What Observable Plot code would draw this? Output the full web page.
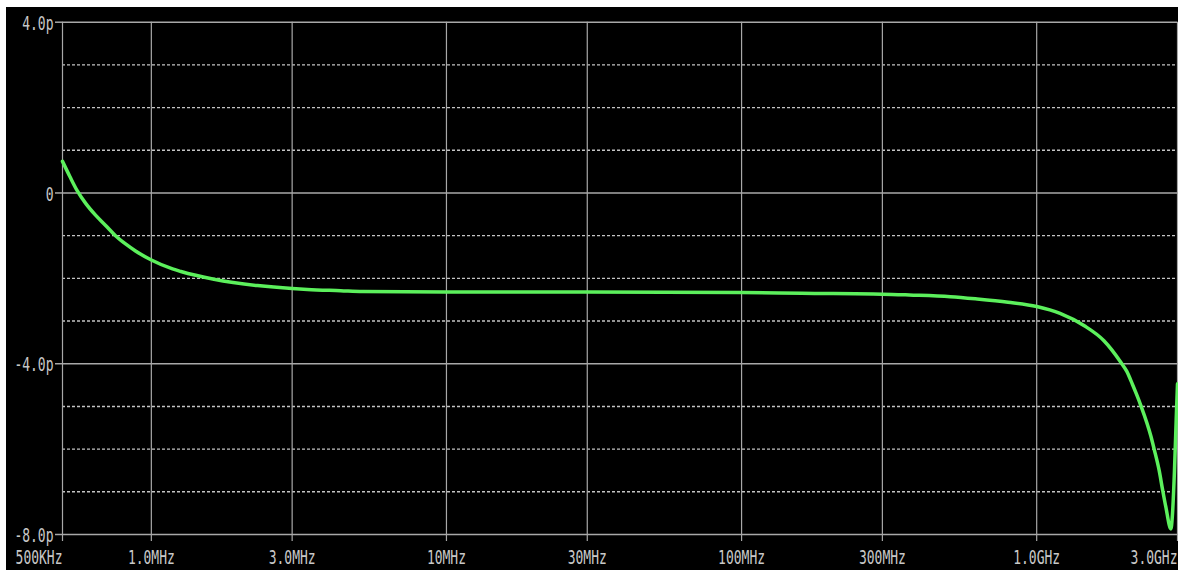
<!DOCTYPE html>
<html>
<head>
<meta charset="utf-8">
<script src="https://cdn.jsdelivr.net/npm/d3@7"></script>
<script src="https://cdn.jsdelivr.net/npm/@observablehq/plot@0.6"></script>
<style>
  html, body { margin: 0; padding: 0; background: #ffffff; }
  #wrap { padding: 7px 0 0 6px; width: 1172px; height: 563px; }
  #wrap svg { display: block; background: #000000; }
</style>
</head>
<body>
<div id="wrap"></div>
<script>
// ---- data (frequency in Hz, value in pF) ----
const freqHz = [5.0e5, 5.3e5, 5.6e5, 6.0e5, 6.47e5, 7.0e5, 7.56e5, 8.2e5, 8.84e5, 1.0e6, 1.18e6, 1.26e6, 1.63e6, 2.29e6, 3.0e6, 3.38e6, 4.38e6, 5.2e6,
  1e7, 3e7, 1e8, 1.6e8, 3.0e8, 3.7e8, 5.1e8, 6.2e8, 8.0e8, 1.0e9, 1.2e9, 1.45e9, 1.69e9, 1.93e9, 2.02e9, 2.11e9, 2.18e9, 2.254e9,
  2.438e9, 2.5e9, 2.6e9, 2.67e9, 2.74e9, 2.85e9, 2.88e9, 2.93e9, 2.97e9, 3.0e9];
const capPf = [0.74, 0.38, 0.06, -0.25, -0.52, -0.76, -1.0, -1.2, -1.36, -1.57, -1.78, -1.84, -2.02, -2.17, -2.24, -2.26, -2.29, -2.31,
  -2.32, -2.32, -2.33, -2.35, -2.37, -2.39, -2.43, -2.48, -2.56, -2.66, -2.82, -3.11, -3.46, -3.97, -4.18, -4.48, -4.72, -4.98,
  -5.70, -6.0, -6.5, -6.95, -7.36, -7.87, -7.6, -6.5, -5.3, -4.47];

const xTickValues = [5e5, 1e6, 3e6, 1e7, 3e7, 1e8, 3e8, 1e9, 3e9];
const xTickLabels = ["500KHz", "1.0MHz", "3.0MHz", "10MHz", "30MHz", "100MHz", "300MHz", "1.0GHz", "3.0GHz"];
const yTickValues = [4, 0, -4, -8];
const yTickLabels = ["4.0p", "0", "-4.0p", "-8.0p"];
const yMinorValues = [3, 2, 1, -1, -2, -3, -5, -6, -7];

const curve = freqHz.map((f, i) => ({f, v: capPf[i]}));
const xTicks = xTickValues.map((f, i) => ({f, label: xTickLabels[i]}));
const yTicks = yTickValues.map((v, i) => ({v, label: yTickLabels[i]}));

const textColor = "#c8c8c8";
const gridColor = "#a8a8a8";
const dotColor = "#c4c4c4";
const font = "DejaVu Sans Mono";

const chart = Plot.plot({
  width: 1172,
  height: 563,
  marginLeft: 56,
  marginTop: 14.7,
  marginRight: 1,
  marginBottom: 36,
  style: {background: "#000000", fontFamily: font},
  x: {type: "log", domain: [5e5, 3e9], axis: null},
  y: {domain: [-8, 4], axis: null},
  marks: [
    Plot.ruleY(yMinorValues, {stroke: dotColor, strokeWidth: 1.4, strokeDasharray: "3,2"}),
    Plot.ruleX(xTickValues, {stroke: gridColor, strokeWidth: 1.2}),
    Plot.ruleY(yTickValues, {stroke: gridColor, strokeWidth: 1.5}),
    Plot.axisY({ticks: yTickValues, tickSize: 7, tickFormat: () => "", stroke: gridColor, strokeWidth: 1.5, label: null}),
    Plot.axisX({ticks: xTickValues, tickSize: 7, tickFormat: () => "", stroke: gridColor, strokeWidth: 1.2, label: null}),
    Plot.line(curve, {x: "f", y: "v", stroke: "#5cf05c", strokeWidth: 3.5, curve: "monotone-x"}),
    // y tick labels
    Plot.text(yTicks, {y: "v", text: "label", frameAnchor: "left", textAnchor: "end", dx: -9, dy: 1,
      fill: textColor, fontSize: 13, fontFamily: font}),
    // x tick labels
    Plot.text(xTicks.slice(0, 1), {x: "f", text: "label", frameAnchor: "bottom", textAnchor: "end", dy: 27,
      fill: textColor, fontSize: 13, fontFamily: font}),
    Plot.text(xTicks.slice(1, -1), {x: "f", text: "label", frameAnchor: "bottom", textAnchor: "middle", dy: 27,
      fill: textColor, fontSize: 13, fontFamily: font}),
    Plot.text(xTicks.slice(-1), {x: "f", text: "label", frameAnchor: "bottom", textAnchor: "end", dy: 27,
      fill: textColor, fontSize: 13, fontFamily: font})
  ]
});

document.getElementById("wrap").appendChild(chart);

// stretch each label vertically about its own centre to mimic the tall, narrow plotter font
const svgNS = "http://www.w3.org/2000/svg";
chart.querySelectorAll("text").forEach(t => {
  if (!t.textContent) return;
  const bb = t.getBBox();
  const cx = bb.x + bb.width / 2, cy = bb.y + bb.height / 2;
  const c = t.transform.baseVal.consolidate();
  const M = c ? c.matrix : chart.createSVGMatrix();
  const px = M.a * cx + M.c * cy + M.e;
  const py = M.b * cx + M.d * cy + M.f;
  const g = document.createElementNS(svgNS, "g");
  g.setAttribute("transform", `translate(${px},${py}) scale(1,1.55) translate(${-px},${-py})`);
  t.parentNode.insertBefore(g, t);
  g.appendChild(t);
});
</script>
</body>
</html>
